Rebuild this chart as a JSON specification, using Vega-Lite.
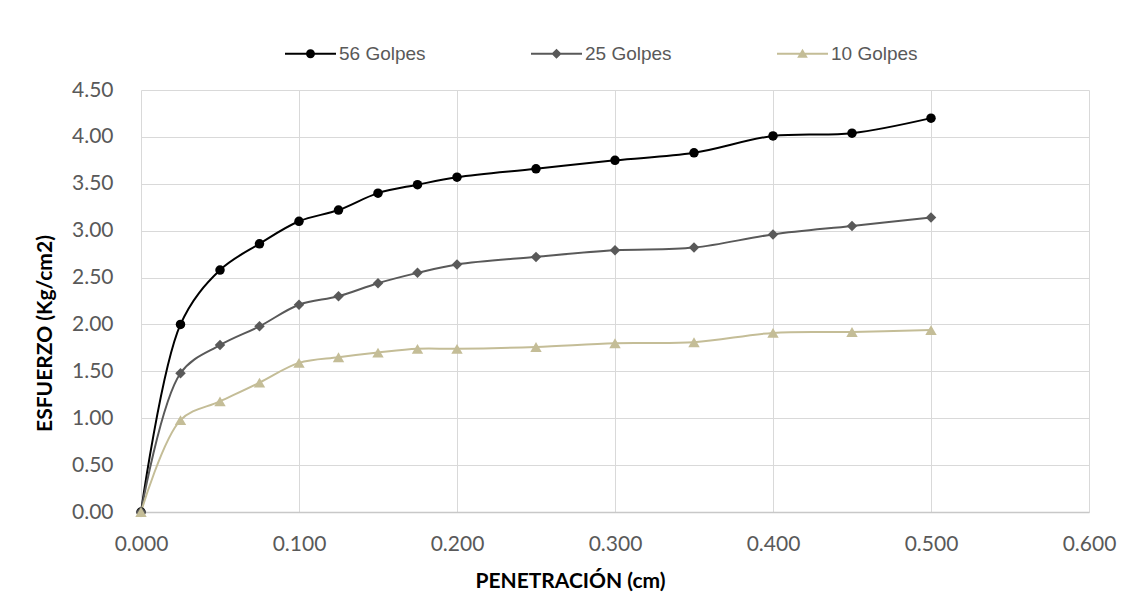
{
  "$schema": "https://vega.github.io/schema/vega-lite/v6.json",
  "width": 948,
  "height": 422,
  "autosize": {"type": "none"},
  "padding": {"left": 141, "top": 90, "right": 43, "bottom": 85},
  "background": "white",
  "config": {"view": {"stroke": null}},
  "data": {
    "values": [
      {"x": 0, "y": 0, "serie": "56 Golpes"},
      {"x": 0.025, "y": 2.0, "serie": "56 Golpes"},
      {"x": 0.05, "y": 2.58, "serie": "56 Golpes"},
      {"x": 0.075, "y": 2.86, "serie": "56 Golpes"},
      {"x": 0.1, "y": 3.1, "serie": "56 Golpes"},
      {"x": 0.125, "y": 3.22, "serie": "56 Golpes"},
      {"x": 0.15, "y": 3.4, "serie": "56 Golpes"},
      {"x": 0.175, "y": 3.49, "serie": "56 Golpes"},
      {"x": 0.2, "y": 3.57, "serie": "56 Golpes"},
      {"x": 0.25, "y": 3.66, "serie": "56 Golpes"},
      {"x": 0.3, "y": 3.75, "serie": "56 Golpes"},
      {"x": 0.35, "y": 3.83, "serie": "56 Golpes"},
      {"x": 0.4, "y": 4.01, "serie": "56 Golpes"},
      {"x": 0.45, "y": 4.04, "serie": "56 Golpes"},
      {"x": 0.5, "y": 4.2, "serie": "56 Golpes"},
      {"x": 0, "y": 0, "serie": "25 Golpes"},
      {"x": 0.025, "y": 1.48, "serie": "25 Golpes"},
      {"x": 0.05, "y": 1.78, "serie": "25 Golpes"},
      {"x": 0.075, "y": 1.98, "serie": "25 Golpes"},
      {"x": 0.1, "y": 2.21, "serie": "25 Golpes"},
      {"x": 0.125, "y": 2.3, "serie": "25 Golpes"},
      {"x": 0.15, "y": 2.44, "serie": "25 Golpes"},
      {"x": 0.175, "y": 2.55, "serie": "25 Golpes"},
      {"x": 0.2, "y": 2.64, "serie": "25 Golpes"},
      {"x": 0.25, "y": 2.72, "serie": "25 Golpes"},
      {"x": 0.3, "y": 2.79, "serie": "25 Golpes"},
      {"x": 0.35, "y": 2.82, "serie": "25 Golpes"},
      {"x": 0.4, "y": 2.96, "serie": "25 Golpes"},
      {"x": 0.45, "y": 3.05, "serie": "25 Golpes"},
      {"x": 0.5, "y": 3.14, "serie": "25 Golpes"},
      {"x": 0, "y": 0, "serie": "10 Golpes"},
      {"x": 0.025, "y": 0.98, "serie": "10 Golpes"},
      {"x": 0.05, "y": 1.18, "serie": "10 Golpes"},
      {"x": 0.075, "y": 1.38, "serie": "10 Golpes"},
      {"x": 0.1, "y": 1.59, "serie": "10 Golpes"},
      {"x": 0.125, "y": 1.65, "serie": "10 Golpes"},
      {"x": 0.15, "y": 1.7, "serie": "10 Golpes"},
      {"x": 0.175, "y": 1.74, "serie": "10 Golpes"},
      {"x": 0.2, "y": 1.74, "serie": "10 Golpes"},
      {"x": 0.25, "y": 1.76, "serie": "10 Golpes"},
      {"x": 0.3, "y": 1.8, "serie": "10 Golpes"},
      {"x": 0.35, "y": 1.81, "serie": "10 Golpes"},
      {"x": 0.4, "y": 1.91, "serie": "10 Golpes"},
      {"x": 0.45, "y": 1.92, "serie": "10 Golpes"},
      {"x": 0.5, "y": 1.94, "serie": "10 Golpes"}
    ]
  },
  "encoding": {
    "x": {
      "field": "x",
      "type": "quantitative",
      "scale": {"domain": [0, 0.6], "nice": false, "zero": false},
      "axis": {
        "values": [0, 0.1, 0.2, 0.3, 0.4, 0.5, 0.6],
        "format": ".3f",
        "grid": true,
        "gridColor": "#d9d9d9",
        "gridWidth": 1,
        "domain": true,
        "domainColor": "#c8c8c8",
        "domainWidth": 1.5,
        "ticks": false,
        "tickSize": 0,
        "labelPadding": 21,
        "labelFont": "Lato",
        "labelFontSize": 21,
        "labelColor": "#595959",
        "labelFlush": false,
        "labelOverlap": false,
        "title": "PENETRACIÓN (cm)",
        "titleFont": "Lato",
        "titleFontSize": 21,
        "titleFontWeight": "bold",
        "titleColor": "#000000",
        "titleX": 429,
        "titleY": 75,
        "titleAlign": "center",
        "titleBaseline": "alphabetic"
      }
    },
    "y": {
      "field": "y",
      "type": "quantitative",
      "scale": {"domain": [0, 4.5], "nice": false},
      "axis": {
        "values": [0, 0.5, 1, 1.5, 2, 2.5, 3, 3.5, 4, 4.5],
        "format": ".2f",
        "grid": true,
        "gridColor": "#d9d9d9",
        "gridWidth": 1,
        "domain": false,
        "ticks": false,
        "tickSize": 0,
        "labelPadding": 28,
        "labelFont": "Lato",
        "labelFontSize": 21,
        "labelColor": "#595959",
        "labelFlush": false,
        "labelOverlap": false,
        "title": "ESFUERZO (Kg/cm2)",
        "titleFont": "Lato",
        "titleFontSize": 21,
        "titleFontWeight": "bold",
        "titleColor": "#000000",
        "titleAngle": -90,
        "titleX": -96,
        "titleY": 243,
        "titleAlign": "center",
        "titleBaseline": "middle"
      }
    }
  },
  "layer": [
    {
      "mark": {"type": "line", "interpolate": "catmull-rom", "strokeWidth": 2},
      "encoding": {
        "color": {
          "field": "serie",
          "type": "nominal",
          "scale": {
            "domain": ["56 Golpes", "25 Golpes", "10 Golpes"],
            "range": ["#000000", "#595959", "#C4BD97"]
          },
          "legend": null
        }
      }
    },
    {
      "mark": {"type": "point", "filled": true, "opacity": 1},
      "encoding": {
        "color": {
          "field": "serie",
          "type": "nominal",
          "scale": {
            "domain": ["56 Golpes", "25 Golpes", "10 Golpes"],
            "range": ["#000000", "#595959", "#C4BD97"]
          },
          "legend": null
        },
        "shape": {
          "field": "serie",
          "type": "nominal",
          "scale": {
            "domain": ["56 Golpes", "25 Golpes", "10 Golpes"],
            "range": ["circle", "diamond", "triangle-up"]
          },
          "legend": null
        },
        "size": {
          "field": "serie",
          "type": "nominal",
          "scale": {
            "domain": ["56 Golpes", "25 Golpes", "10 Golpes"],
            "range": [90, 130, 140]
          },
          "legend": null
        }
      }
    },
    {
      "transform": [{"filter": "datum.x < 0"}],
      "mark": {"type": "point", "filled": true, "opacity": 1, "size": 2601},
      "encoding": {
        "color": {
          "field": "serie",
          "type": "nominal",
          "scale": {
            "domain": ["56 Golpes", "25 Golpes", "10 Golpes"],
            "range": ["#000000", "#595959", "#C4BD97"]
          },
          "legend": {
            "title": null,
            "orient": "none",
            "legendX": 143,
            "legendY": -63,
            "direction": "horizontal",
            "columnPadding": 104,
            "padding": 0,
            "labelFont": "Liberation Sans",
            "labelFontSize": 19,
            "labelColor": "#595959",
            "labelOffset": 2,
            "symbolSize": 2601
          }
        },
        "shape": {
          "field": "serie",
          "type": "nominal",
          "scale": {
            "domain": ["56 Golpes", "25 Golpes", "10 Golpes"],
            "range": [
              "M-1,-0.04H-0.1V0.04H-1Z M0.1,-0.04H1V0.04H0.1Z M-0.176,0A0.176,0.176,0,1,1,0.176,0A0.176,0.176,0,1,1,-0.176,0Z",
              "M-1,-0.04H-0.1V0.04H-1Z M0.1,-0.04H1V0.04H0.1Z M0,-0.2L0.2,0L0,0.2L-0.2,0Z",
              "M-1,-0.04H-0.1V0.04H-1Z M0.1,-0.04H1V0.04H0.1Z M0,-0.2L0.21,0.16L-0.21,0.16Z"
            ]
          },
          "legend": {
            "title": null,
            "orient": "none",
            "legendX": 143,
            "legendY": -63,
            "direction": "horizontal",
            "columnPadding": 104,
            "padding": 0,
            "labelFont": "Liberation Sans",
            "labelFontSize": 19,
            "labelColor": "#595959",
            "labelOffset": 2,
            "symbolSize": 2601
          }
        }
      }
    }
  ],
  "resolve": {"scale": {"shape": "independent", "color": "independent", "size": "independent"}}
}
